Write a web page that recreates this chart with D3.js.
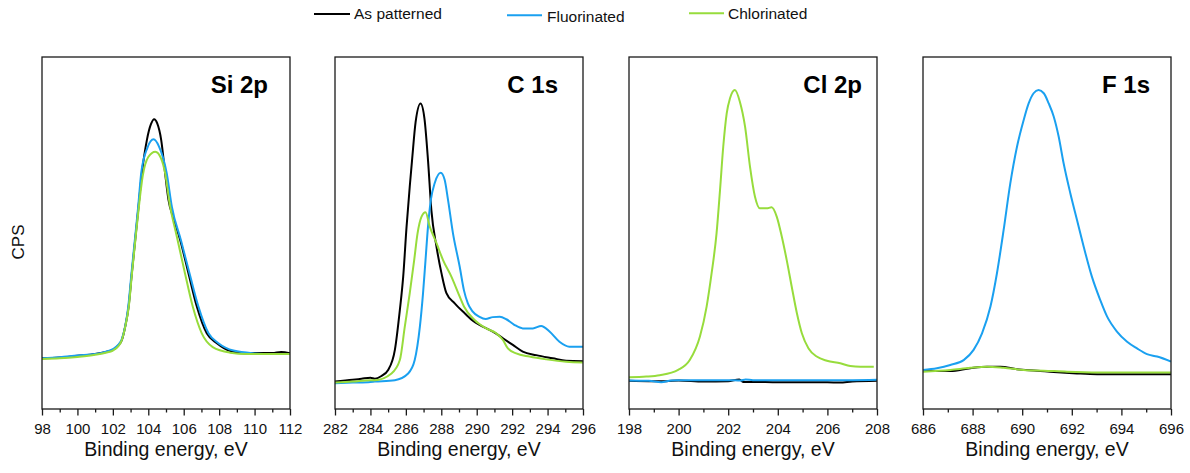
<!DOCTYPE html>
<html><head><meta charset="utf-8">
<script src="https://cdn.jsdelivr.net/npm/d3@7"></script>
<style>
body{margin:0;background:#fff;}
svg{display:block;font-family:"Liberation Sans",Arial,sans-serif;}
</style></head>
<body><svg id="chart" width="1190" height="473"></svg>
<script>
// ---------- DATA ----------
const seriesNames = ["As patterned", "Fluorinated", "Chlorinated"];
const seriesColors = ["#000000", "#1aa0f0", "#97dc3c"];
const panelTitles = ["Si 2p", "C 1s", "Cl 2p", "F 1s"];
const xDomains = [[98,112],[282,296],[198,208],[686,696]];
const majorTicks = [
  [98,100,102,104,106,108,110,112],
  [282,284,286,288,290,292,294,296],
  [198,200,202,204,206,208],
  [686,688,690,692,694,696]
];
const xTitle = "Binding energy, eV";
const yTitle = "CPS";

// Intensities in arbitrary units (panel-relative, 0 = bottom of frame, 100 = top)
const siAsPatterned = [[98,14.4],[99,14.6],[100,15.1],[101,15.6],[101.6,16.2],[102,16.8],[102.3,18.0],[102.51,19.6],[102.7,23.5],[102.89,29.1],[103.07,38.5],[103.26,48.0],[103.45,57.5],[103.64,67.0],[103.92,76.4],[104.15,80.9],[104.33,82.3],[104.5,81.2],[104.73,76.4],[104.95,67.0],[105.14,59.4],[105.4,54.5],[105.8,48.0],[106.27,38.5],[106.74,29.1],[107.3,21.5],[107.87,18.7],[108.62,16.5],[109.56,15.8],[110,15.9],[111,15.9],[111.5,16.2],[112,15.8]];
const siFluorinated = [[98,14.4],[99,14.7],[100,15.2],[101,15.6],[101.6,16.3],[102,17.0],[102.3,18.2],[102.5,19.8],[102.7,23.6],[102.87,29.1],[103.05,38.5],[103.24,48.0],[103.43,57.5],[103.6,67.0],[103.95,74.2],[104.3,76.6],[104.6,74.6],[105.04,67.0],[105.33,57.5],[105.84,48.0],[106.33,38.5],[106.83,29.1],[107.4,21.5],[107.96,18.7],[108.81,16.6],[110,15.8],[111,15.6],[112,15.6]];
const siChlorinated = [[98,14.2],[99,14.4],[100,14.8],[101,15.4],[101.6,16.0],[102,16.6],[102.3,17.8],[102.5,19.5],[102.7,23.4],[102.9,29.1],[103.08,38.5],[103.27,48.0],[103.47,57.5],[103.68,66.0],[104.0,71.6],[104.4,73.1],[104.72,71.2],[104.95,67.0],[105.2,58.5],[105.61,49.0],[106.03,39.5],[106.51,29.1],[107.02,21.5],[107.64,17.6],[108.62,16.0],[109.56,15.6],[111,15.6],[112,15.6]];

const cAsPatterned = [[282,7.8],[283,8.3],[283.5,8.6],[284,8.9],[284.25,8.6],[284.6,9.3],[285,11.1],[285.38,16.8],[285.66,28.1],[285.85,37.6],[286.04,51.8],[286.22,63.2],[286.35,70.7],[286.55,81.5],[286.83,86.8],[287.05,82.5],[287.25,70.7],[287.44,56.5],[287.73,46.1],[288.01,38.6],[288.29,32.9],[288.76,30.0],[289.32,27.2],[289.8,25.0],[290.16,23.9],[290.91,22.0],[291.48,20.1],[292.04,18.2],[292.6,16.3],[293.36,15.3],[294.29,14.4],[295.05,13.7],[296,13.6]];
const cFluorinated = [[282,7.3],[283,7.5],[284,7.7],[284.25,7.8],[285.38,8.2],[286.13,10.1],[286.5,13.9],[286.79,23.3],[286.97,32.9],[287.11,42.3],[287.25,51.8],[287.41,59.4],[287.63,64.2],[287.97,67.1],[288.19,65.1],[288.38,59.4],[288.66,49.9],[289.04,40.4],[289.28,33.7],[289.5,30.0],[289.75,27.8],[290.16,26.2],[290.5,25.6],[290.91,26.1],[291.3,26.2],[291.67,25.5],[292.1,24.0],[292.6,22.9],[293.17,22.9],[293.64,23.6],[294.11,22.0],[294.67,19.1],[295.23,17.7],[296,17.7]];
const cChlorinated = [[282,7.5],[283,7.8],[284,8.2],[284.25,8.2],[285.19,10.1],[285.66,13.9],[285.94,23.4],[286.22,32.9],[286.47,42.3],[286.66,49.9],[286.88,54.6],[287.11,55.9],[287.35,51.8],[287.73,47.1],[288.1,42.3],[288.57,37.6],[289.04,31.9],[289.28,29.1],[289.88,25.3],[290.54,22.9],[291.1,21.5],[291.48,19.6],[291.76,17.2],[292.23,15.8],[292.98,14.9],[293.92,14.1],[295.05,13.4],[296,13.2]];

const clAsPatterned = [[198,8.0],[198.8,7.9],[199.5,7.9],[200,8.1],[201,7.8],[202,7.9],[202.45,8.4],[202.6,7.7],[203,7.7],[204,7.6],[205,7.6],[206,7.6],[206.5,7.5],[207,7.8],[208,8.0]];
const clFluorinated = [[198,8.1],[198.8,8.0],[199.3,7.6],[199.7,8.1],[200,8.2],[201,8.2],[202,8.2],[202.5,8.1],[202.7,8.4],[203,8.2],[204,8.2],[205,8.2],[206,8.2],[207,8.2],[208,8.3]];
const clChlorinated = [[198,9.0],[198.7,9.2],[199.24,9.6],[199.98,11.1],[200.45,13.9],[200.86,20.6],[201.13,29.1],[201.33,38.5],[201.53,49.9],[201.67,62.2],[201.8,74.5],[201.94,84.0],[202.07,88.2],[202.27,90.6],[202.47,87.3],[202.68,80.2],[202.88,68.8],[203.08,60.3],[203.28,57.0],[203.55,57.0],[203.75,57.3],[203.96,54.6],[204.16,49.0],[204.36,42.3],[204.56,34.8],[204.77,27.2],[204.97,21.5],[205.24,17.2],[205.57,14.9],[205.98,13.7],[206.52,13.0],[206.92,12.2],[207.33,12.0],[207.87,12.0]];

const fAsPatterned = [[686,10.8],[687.1,10.8],[687.91,11.6],[688.58,12.0],[689.12,12.0],[689.79,11.3],[690.6,10.9],[691.27,10.5],[692.21,10.1],[693.02,9.9],[696,9.9]];
const fFluorinated = [[686,11.1],[686.56,11.6],[687.1,12.5],[687.64,13.9],[688.04,16.8],[688.38,21.5],[688.72,29.1],[688.98,38.5],[689.25,50.8],[689.52,64.1],[689.79,74.5],[690.06,82.1],[690.26,86.8],[690.46,89.7],[690.66,90.6],[690.87,89.7],[691.07,86.8],[691.27,83.1],[691.47,77.4],[691.67,69.8],[691.94,61.3],[692.21,53.7],[692.48,46.1],[692.81,37.6],[693.15,30.9],[693.42,26.3],[693.82,22.0],[694.23,19.1],[694.63,17.2],[695.03,15.6],[695.44,14.9],[696,13.5]];
const fChlorinated = [[686,10.6],[687.1,11.1],[687.91,11.7],[688.58,12.0],[689.25,11.7],[690.06,11.1],[690.87,10.9],[691.81,10.6],[693.02,10.4],[696,10.4]];

const panelSeries = [
  [siAsPatterned, siFluorinated, siChlorinated],
  [cAsPatterned, cFluorinated, cChlorinated],
  [clAsPatterned, clFluorinated, clChlorinated],
  [fAsPatterned, fFluorinated, fChlorinated]
];

// ---------- LAYOUT ----------
const panelLeft = [42, 335, 629, 923];
const panelW = 248, panelTop = 57, panelBottom = 409;
const titleRightInset = [22, 25, 15, 21];
const legendLayout = [
  {x1:314, x2:350, ly:14,   tx:354, ty:18.5},
  {x1:507, x2:542, ly:15.3, tx:547, ty:21.5},
  {x1:689, x2:724, ly:13.3, tx:728, ty:18.5}
];

const svg = d3.select("#chart");
const y = d3.scaleLinear().domain([0,100]).range([panelBottom, panelTop]);

panelTitles.forEach((title, i) => {
  const x = d3.scaleLinear().domain(xDomains[i]).range([panelLeft[i], panelLeft[i] + panelW]);
  const g = svg.append("g");

  const clipId = "clip" + i;
  svg.append("clipPath").attr("id", clipId).append("rect")
    .attr("x", panelLeft[i]).attr("y", panelTop).attr("width", panelW).attr("height", panelBottom - panelTop);

  const line = d3.line().x(d => x(d[0])).y(d => y(d[1])).curve(d3.curveMonotoneX);
  const lg = g.append("g").attr("clip-path", `url(#${clipId})`);
  panelSeries[i].forEach((s, k) => {
    lg.append("path").datum(s).attr("d", line)
      .attr("fill", "none").attr("stroke", seriesColors[k])
      .attr("stroke-width", 2).attr("stroke-linejoin", "round");
  });

  // frame
  g.append("rect").attr("x", panelLeft[i]).attr("y", panelTop)
    .attr("width", panelW).attr("height", panelBottom - panelTop)
    .attr("fill", "none").attr("stroke", "#1a1a1a").attr("stroke-width", 1.3);

  // minor ticks
  const [a, b] = xDomains[i];
  const minor = d3.range(a + 1, b, 2);
  const minorAxis = d3.axisBottom(x).tickValues(minor).tickSize(3.5).tickFormat("");
  g.append("g").attr("transform", `translate(0,${panelBottom})`).call(minorAxis)
    .call(s => s.select(".domain").remove())
    .selectAll("line").attr("stroke", "#1a1a1a").attr("stroke-width", 1.3);

  // major ticks
  const majorAxis = d3.axisBottom(x).tickValues(majorTicks[i]).tickSize(6.5).tickPadding(8).tickFormat(d3.format("d"));
  const ax = g.append("g").attr("transform", `translate(0,${panelBottom})`).call(majorAxis);
  ax.select(".domain").remove();
  ax.selectAll("line").attr("stroke", "#1a1a1a").attr("stroke-width", 1.3);
  ax.selectAll("text").attr("font-size", 15).attr("fill", "#111")
    .attr("font-family", '"Liberation Sans",Arial,sans-serif');

  // x title
  g.append("text").attr("x", panelLeft[i] + panelW / 2).attr("y", 456)
    .attr("text-anchor", "middle").attr("font-size", 19.5).attr("fill", "#111")
    .text(xTitle);

  // panel title
  g.append("text").attr("x", panelLeft[i] + panelW - titleRightInset[i]).attr("y", 93)
    .attr("text-anchor", "end").attr("font-size", 24).attr("font-weight", "bold")
    .attr("fill", "#000").text(title);
});

// y title
svg.append("text").attr("transform", "translate(24,242) rotate(-90)")
  .attr("text-anchor", "middle").attr("font-size", 17).attr("fill", "#111").text(yTitle);

// legend
seriesNames.forEach((n, k) => {
  const L = legendLayout[k];
  svg.append("line").attr("x1", L.x1).attr("x2", L.x2).attr("y1", L.ly).attr("y2", L.ly)
    .attr("stroke", seriesColors[k]).attr("stroke-width", 2);
  svg.append("text").attr("x", L.tx).attr("y", L.ty).attr("font-size", 15.5)
    .attr("fill", "#111").text(n);
});
</script></body></html>
